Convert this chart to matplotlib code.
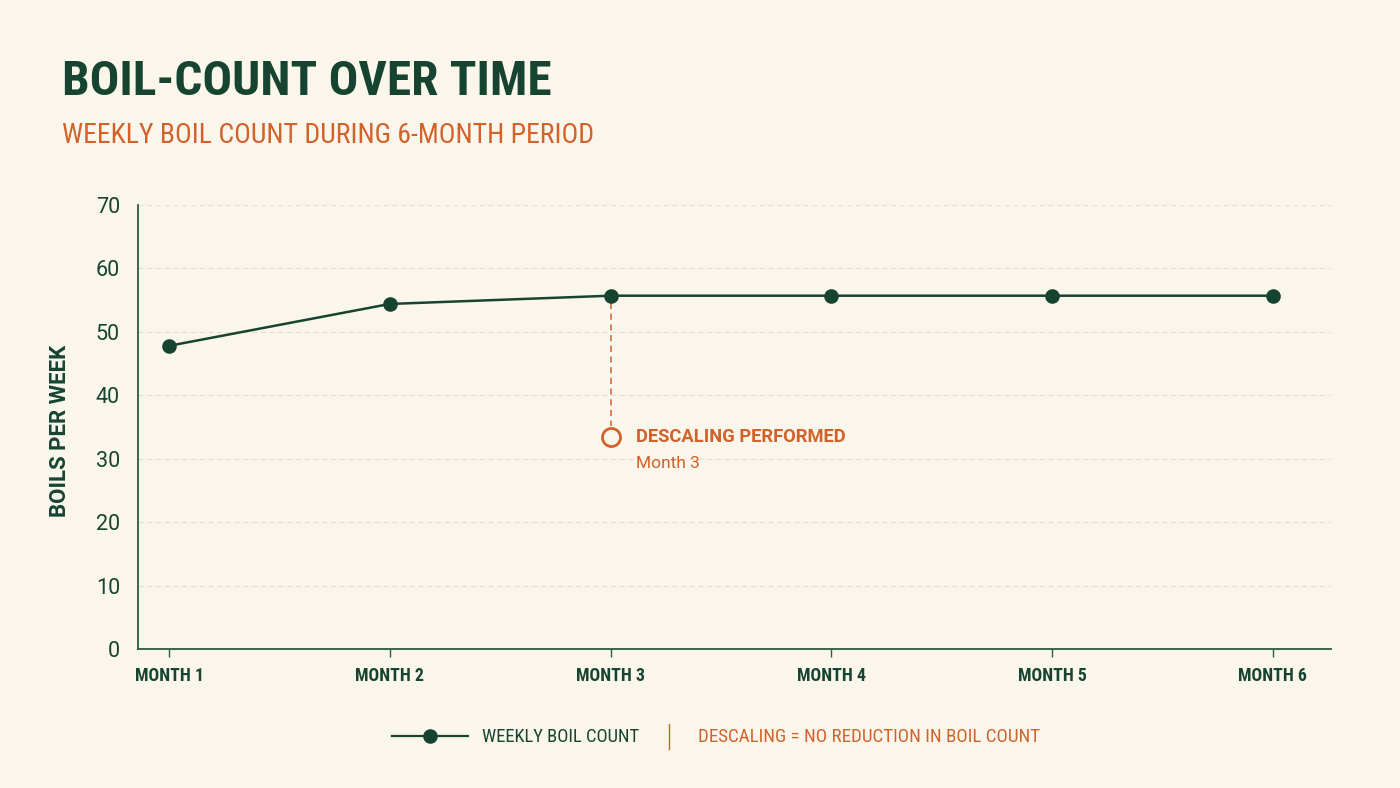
import matplotlib
matplotlib.use("Agg")
import matplotlib.pyplot as plt
from matplotlib import font_manager as fm
from matplotlib.lines import Line2D

# ---------------- data ----------------
months = ["MONTH 1", "MONTH 2", "MONTH 3", "MONTH 4", "MONTH 5", "MONTH 6"]
boils_per_week = [47.8, 54.4, 55.7, 55.7, 55.7, 55.7]
y_ticks = [0, 10, 20, 30, 40, 50, 60, 70]
descale_month = 2            # index of MONTH 3
descale_marker_value = 33.5  # where the annotation marker sits

title_text = "BOIL-COUNT OVER TIME"
subtitle_text = "WEEKLY BOIL COUNT DURING 6-MONTH PERIOD"
ylabel_text = "BOILS PER WEEK"
annot_title = "DESCALING PERFORMED"
annot_sub = "Month 3"
legend_series = "WEEKLY BOIL COUNT"
legend_note = "DESCALING = NO REDUCTION IN BOIL COUNT"

# ---------------- style ----------------
BG = "#faf6ec"
GREEN = "#174430"
ORANGE = "#d2622a"
GRID = "#e4dfd1"
W, H = 1400, 788

ttf = fm.fontManager.ttflist
names = {f.name for f in ttf}
COND, STRETCH = None, "normal"
for c in ["Roboto Condensed", "Liberation Sans Narrow", "Open Sans Condensed",
          "Noto Sans Condensed", "DejaVu Sans Condensed"]:
    if c in names:
        COND = c
        break
if COND is None:
    for fam in ["Noto Sans", "Open Sans", "DejaVu Sans", "Roboto"]:
        if any(f.name == fam and "cond" in str(f.stretch) for f in ttf):
            COND, STRETCH = fam, "condensed"
            break
if COND is None:
    COND = "Roboto" if "Roboto" in names else "DejaVu Sans"
REG = "Roboto" if "Roboto" in names else "DejaVu Sans"


def fx(px):
    return px / W


def fy(py):
    return 1 - py / H


fig = plt.figure(figsize=(W / 100, H / 100), dpi=100, facecolor=BG)
ax = fig.add_axes([fx(138), fy(649), fx(1331) - fx(138), fy(205) - fy(649)])
ax.set_facecolor(BG)

x = list(range(len(months)))
ax.plot(x, boils_per_week, color=GREEN, lw=1.8, marker="o", ms=9.5,
        markerfacecolor=GREEN, markeredgecolor=GREEN, zorder=4)

ax.set_ylim(0, 70)
ax.set_xlim(-0.141, 5.264)
ax.set_yticks(y_ticks)
ax.set_xticks(x)
ax.set_xticklabels(months)

for s in ["top", "right"]:
    ax.spines[s].set_visible(False)
for s in ["left", "bottom"]:
    ax.spines[s].set_color("#2c5a44")
    ax.spines[s].set_linewidth(1.3)

ax.tick_params(axis="y", length=0, pad=13, labelsize=15.5, labelcolor=GREEN)
ax.tick_params(axis="x", length=6, width=1, color="#2c5a44", pad=7,
               labelsize=12.5, labelcolor=GREEN)
for lab in ax.get_yticklabels():
    lab.set_fontfamily(REG)
for lab in ax.get_xticklabels():
    lab.set_fontfamily(COND)
    lab.set_fontstretch(STRETCH)
    lab.set_fontweight("semibold")

ax.yaxis.grid(True, color=GRID, lw=0.9, ls=(0, (4, 3)))
ax.set_axisbelow(True)

# annotation: descaling
ax.plot([descale_month, descale_month],
        [boils_per_week[descale_month] - 1.2, descale_marker_value + 1.6],
        color=ORANGE, lw=1.1, ls=(0, (4, 3)), zorder=3)
ax.plot([descale_month], [descale_marker_value], marker="o", ms=13,
        markerfacecolor=BG, markeredgecolor=ORANGE, markeredgewidth=2.0,
        ls="none", zorder=5)
t_ann1 = ax.annotate(annot_title, xy=(descale_month, descale_marker_value),
                     xytext=(18, 0), textcoords="offset points",
                     ha="left", va="center", color=ORANGE, fontsize=13,
                     fontweight="bold", family=REG)
t_ann2 = ax.annotate(annot_sub, xy=(descale_month, descale_marker_value),
                     xytext=(18, -23), textcoords="offset points",
                     ha="left", va="baseline", color=ORANGE, fontsize=12.5,
                     family=REG)

# titles
t_title = fig.text(fx(62), fy(95), title_text, ha="left", va="baseline",
                   color=GREEN, fontsize=44, fontweight="bold",
                   family=COND, fontstretch=STRETCH)
t_sub = fig.text(fx(62), fy(143), subtitle_text, ha="left", va="baseline",
                 color=ORANGE, fontsize=22, family=COND, fontstretch=STRETCH)
t_ylab = fig.text(fx(60), fy(431), ylabel_text, ha="center", va="center",
                  rotation=90, color=GREEN, fontsize=15.5, fontweight="bold",
                  family=REG)

# legend (custom, below chart)
fig.add_artist(Line2D([fx(392), fx(468)], [fy(736), fy(736)], color=GREEN,
                      lw=1.6))
fig.add_artist(Line2D([fx(430)], [fy(736)], marker="o", ms=9.5, color=GREEN,
                      ls="none"))
t_leg1 = fig.text(fx(482), fy(742.5), legend_series, ha="left",
                  va="baseline", color=GREEN, fontsize=12.5,
                  family=COND, fontstretch=STRETCH)
fig.add_artist(Line2D([fx(669), fx(669)], [fy(724), fy(749)], color=ORANGE,
                      lw=1.0))
t_leg2 = fig.text(fx(698), fy(742.5), legend_note, ha="left", va="baseline",
                  color=ORANGE, fontsize=12.5, family=COND,
                  fontstretch=STRETCH)

# fit widths of condensed texts to the reference (cap at nominal size)
fig.canvas.draw()
r = fig.canvas.get_renderer()
targets = [(t_title, 489), (t_sub, 532), (t_leg1, 158), (t_leg2, 343),
           (t_ann1, 209)]
for t, wpx in targets:
    bb = t.get_window_extent(r)
    size = t.get_fontsize()
    new = size * wpx / bb.width
    t.set_fontsize(min(new, size * 1.15))
# y label: height of rotated text ~173 px
bb = t_ylab.get_window_extent(r)
t_ylab.set_fontsize(min(t_ylab.get_fontsize() * 173 / bb.height, 16))
# x tick labels: "MONTH 1" ~69 px wide
bb = ax.get_xticklabels()[0].get_window_extent(r)
xs = ax.get_xticklabels()[0].get_fontsize() * 69 / bb.width
for lab in ax.get_xticklabels():
    lab.set_fontsize(min(xs, 14))

fig.savefig("out.png", dpi=100, facecolor=BG)
